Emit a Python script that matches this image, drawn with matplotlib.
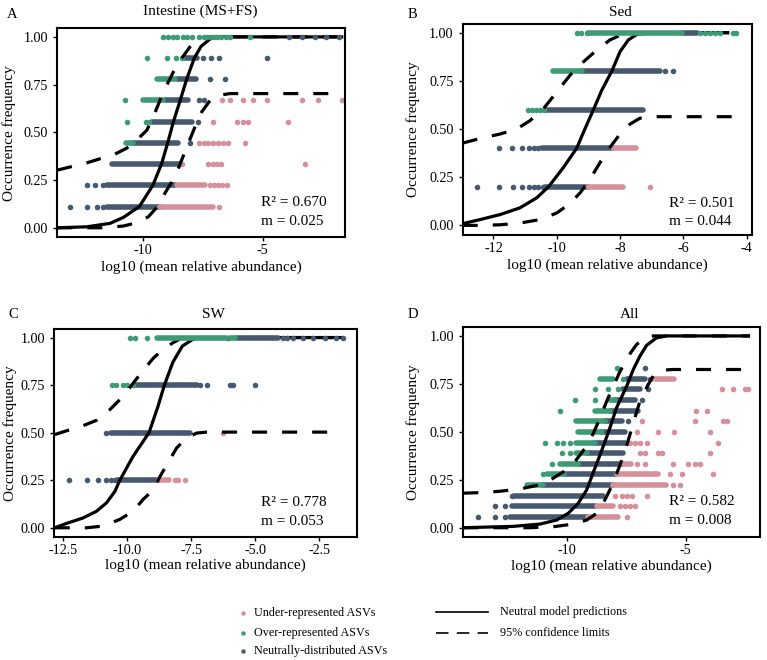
import matplotlib
matplotlib.use("Agg")
import matplotlib.pyplot as plt
from matplotlib.lines import Line2D

plt.rcParams['font.family'] = ['Liberation Serif', 'DejaVu Serif']
plt.rcParams['axes.unicode_minus'] = False

# ---------------- colours ----------------
COL_UNDER = '#D4919B'
COL_OVER = '#3F9B76'
COL_NEUT = '#46596F'

# ---------------- panel texts ----------------
panel_letters = ['A', 'B', 'C', 'D']
panel_titles = ['Intestine (MS+FS)', 'Sed', 'SW', 'All']
r2_values = ['0.670', '0.501', '0.778', '0.582']
m_values = ['0.025', '0.044', '0.053', '0.008']
y_ticks = [0.0, 0.25, 0.5, 0.75, 1.0]
y_ticklabels = ['0.00', '0.25', '0.50', '0.75', '1.00']
A_xticks = [-10, -5]
A_xticklabels = ['-10', '-5']
B_xticks = [-12, -10, -8, -6, -4]
B_xticklabels = ['-12', '-10', '-8', '-6', '-4']
C_xticks = [-12.5, -10.0, -7.5, -5.0, -2.5]
C_xticklabels = ['-12.5', '-10.0', '-7.5', '-5.0', '-2.5']
D_xticks = [-10, -5]
D_xticklabels = ['-10', '-5']

# ---------------- Panel A data ----------------
A_over_dots = {
    1.0: [-9.14, -8.96, -8.75, -8.56, -8.33, -8.14, -7.96, -7.64, -7.44, -7.31, -7.17,
          -7.03, -6.89, -6.75, -6.53, -6.36, -5.53],
    0.889: [-9.83, -9.0, -8.61, -8.38],
    0.667: [-10.74],
    0.556: [-10.67, -9.86, -9.72],
}
A_over_runs = [(-9.39, -8.65, 0.778), (-10.0, -9.14, 0.667), (-10.69, -10.39, 0.444)]
A_neut_dots = {
    1.0: [-3.89, -3.38, -2.82, -2.36, -1.81],
    0.889: [-7.47, -7.17, -6.82, -4.83],
    0.778: [-7.19, -6.57],
    0.667: [-7.64, -7.44],
    0.556: [-7.68],
    0.444: [-8.03],
    0.222: [-12.33, -11.99, -11.64],
    0.111: [-13.03, -12.33, -11.92, -11.64],
}
A_neut_runs = [(-8.28, -7.72, 0.889), (-8.58, -7.78, 0.778), (-9.07, -8.10, 0.667),
               (-9.60, -7.95, 0.556), (-10.39, -8.51, 0.444), (-11.29, -8.44, 0.333),
               (-11.47, -8.65, 0.222), (-11.47, -9.28, 0.111)]
A_under_dots = {
    0.667: [-6.71, -6.36, -5.81, -5.39, -4.83, -3.38, -2.68, -1.68],
    0.556: [-7.06, -6.08, -5.83, -5.60, -3.93],
    0.444: [-7.64, -7.44, -7.26, -7.06, -6.85, -6.67, -6.43, -5.74],
    0.333: [-8.38, -7.26, -7.06, -6.92, -6.75, -3.24],
    0.222: [-7.20, -7.05, -6.88, -6.68, -6.50],
    0.111: [-6.81],
}
A_under_runs = [(-8.58, -7.40, 0.222), (-9.28, -7.06, 0.111)]
A_fit_x = [-13.56, -12.33, -11.36, -10.81, -10.14, -9.58, -9.22, -8.96, -8.72, -8.44, -8.17,
           -7.85, -7.57, -7.19, -6.78, -1.64]
A_fit_y = [0.0, 0.005, 0.023, 0.054, 0.111, 0.222, 0.333, 0.444, 0.556, 0.667, 0.778,
           0.889, 0.95, 0.99, 1.0, 1.0]
A_up_x = [-13.56, -12.33, -11.15, -10.67, -10.25, -9.83, -9.56, -9.28, -9.0, -8.72, -8.38,
          -8.03, -7.68, -7.40, -1.64]
A_up_y = [0.302, 0.340, 0.386, 0.417, 0.459, 0.511, 0.581, 0.668, 0.747, 0.817, 0.887,
          0.948, 0.991, 1.0, 1.0]
A_lo_x = [-13.56, -11.64, -10.81, -10.25, -9.76, -9.42, -9.0, -8.65, -8.38, -8.10, -7.82,
          -7.54, -7.19, -6.78, -6.36, -1.64]
A_lo_y = [0.0, 0.0, 0.009, 0.026, 0.058, 0.106, 0.197, 0.267, 0.354, 0.442, 0.529,
          0.607, 0.668, 0.695, 0.703, 0.703]

# ---------------- Panel B data ----------------
B_over_dots = {
    1.0: [-9.37, -9.23, -9.05, -5.47, -5.32, -5.16, -5.0, -4.84, -4.44, -4.34],
    0.6: [-10.92, -10.79, -10.65, -10.53, -10.39],
}
B_over_runs = [(-9.0, -6.05, 1.0), (-10.11, -9.21, 0.8)]
B_neut_dots = {
    0.8: [-6.58, -6.32],
    0.4: [-11.82, -11.40, -11.11, -10.89, -10.72, -10.58],
    0.2: [-12.53, -11.82, -11.39, -11.11, -10.89, -10.72, -10.58, -10.44],
}
B_neut_runs = [(-6.05, -5.58, 1.0), (-9.21, -6.74, 0.8), (-10.32, -7.26, 0.6),
               (-10.47, -8.21, 0.4), (-10.37, -9.0, 0.2)]
B_under_dots = {0.2: [-7.05]}
B_under_runs = [(-8.21, -7.49, 0.4), (-9.0, -7.92, 0.2)]
B_fit_x = [-12.97, -12.42, -11.79, -11.16, -10.63, -10.26, -9.79, -9.37, -9.11, -8.84, -8.58,
           -8.26, -8.0, -7.74, -7.47, -7.05, -4.55]
B_fit_y = [0.009, 0.030, 0.056, 0.091, 0.143, 0.2, 0.3, 0.4, 0.5, 0.6, 0.7,
           0.8, 0.901, 0.962, 0.991, 1.0, 1.0]
B_up_x = [-12.97, -12.42, -11.79, -11.26, -10.84, -10.42, -10.0, -9.58, -9.16, -8.74, -8.32,
          -7.89, -7.58, -4.55]
B_up_y = [0.427, 0.451, 0.474, 0.5, 0.544, 0.605, 0.692, 0.779, 0.848, 0.909, 0.962,
          0.995, 1.0, 1.0]
B_lo_x = [-12.97, -12.42, -11.79, -11.16, -10.53, -10.0, -9.58, -9.26, -8.95, -8.63, -8.32,
          -8.0, -7.68, -7.37, -6.95, -4.32]
B_lo_y = [0.0, 0.0, 0.003, 0.012, 0.030, 0.064, 0.113, 0.169, 0.239, 0.326, 0.404,
          0.474, 0.526, 0.556, 0.564, 0.564]

# ---------------- Panel C data ----------------
C_over_dots = {
    1.0: [-9.90, -9.70, -9.22],
    0.75: [-10.61, -10.44, -10.16, -9.99, -9.79],
}
C_over_runs = [(-8.83, -6.15, 1.0), (-5.99, -5.79, 1.0)]
C_neut_dots = {
    1.0: [-6.08, -3.93, -3.75, -3.52, -3.15, -2.73, -2.28, -1.85, -1.59],
    0.75: [-7.16, -6.90, -6.0, -5.86, -5.01],
    0.5: [-10.83],
    0.25: [-12.27, -11.56, -11.13, -10.83, -10.64, -10.48],
}
C_neut_runs = [(-5.73, -4.10, 1.0), (-9.70, -7.29, 0.75), (-10.64, -7.55, 0.5),
               (-10.39, -8.79, 0.25)]
C_under_dots = {0.5: [-6.28], 0.25: [-8.14, -8.01, -7.75]}
C_under_runs = [(-8.75, -8.36, 0.25)]
C_fit_x = [-12.83, -12.37, -11.72, -11.20, -10.81, -10.48, -10.29, -9.77, -9.15, -8.80, -8.55,
           -8.22, -7.85, -7.45, -7.10, -1.56]
C_fit_y = [0.0, 0.023, 0.052, 0.087, 0.131, 0.192, 0.25, 0.376, 0.5, 0.638, 0.75,
           0.87, 0.955, 0.99, 1.0, 1.0]
C_up_x = [-12.83, -12.37, -11.72, -11.20, -10.68, -10.16, -9.77, -9.38, -8.98, -8.59, -8.20,
          -7.88, -7.68, -1.56]
C_up_y = [0.490, 0.510, 0.537, 0.565, 0.621, 0.691, 0.760, 0.827, 0.892, 0.939, 0.974,
          0.997, 1.0, 1.0]
C_lo_x = [-12.83, -12.37, -11.59, -10.94, -10.29, -9.77, -9.38, -8.98, -8.72, -8.46, -8.07,
          -7.68, -7.29, -6.90, -1.69]
C_lo_y = [0.0, 0.0, 0.0, 0.009, 0.044, 0.087, 0.149, 0.20, 0.27, 0.33, 0.42,
          0.472, 0.498, 0.503, 0.503]

# ---------------- Panel D data ----------------
D_over_dots = {
    0.833: [-7.92],
    0.778: [-7.63],
    0.722: [-8.83, -8.27, -7.85],
    0.667: [-9.68, -8.83],
    0.611: [-10.31],
    0.444: [-10.92, -10.45, -10.17, -9.89],
    0.389: [-10.24, -9.89],
    0.333: [-10.66],
    0.278: [-11.01],
}
D_over_runs = [(-8.62, -8.08, 0.778), (-8.20, -7.99, 0.667), (-8.83, -8.20, 0.611),
               (-9.61, -8.41, 0.556), (-9.54, -8.55, 0.5), (-9.61, -8.83, 0.444),
               (-9.61, -9.18, 0.389), (-10.31, -9.54, 0.333), (-10.87, -10.14, 0.278),
               (-11.72, -11.01, 0.222)]
D_neut_dots = {
    0.833: [-6.72],
    0.778: [-6.51],
    0.722: [-6.58],
    0.667: [-6.86],
    0.556: [-7.42],
    0.167: [-12.35],
    0.111: [-13.06, -12.63],
    0.056: [-13.79, -13.06, -12.63],
}
D_neut_runs = [(-7.49, -6.72, 0.778), (-7.63, -6.93, 0.722), (-7.99, -7.14, 0.667),
               (-8.20, -7.0, 0.611), (-8.41, -7.70, 0.556), (-8.55, -7.56, 0.5),
               (-8.83, -7.56, 0.444), (-9.18, -7.63, 0.389), (-9.54, -7.70, 0.333),
               (-10.14, -7.92, 0.278), (-11.01, -8.08, 0.222), (-12.25, -8.48, 0.167),
               (-12.35, -8.83, 0.111), (-12.42, -9.15, 0.056)]
D_under_dots = {
    0.722: [-3.48, -2.99, -2.49, -2.35],
    0.611: [-4.56, -4.08],
    0.556: [-6.86, -4.61, -3.41, -3.27],
    0.5: [-7.07, -6.15, -5.49, -3.97],
    0.444: [-7.35, -7.14, -6.93, -6.65, -3.62],
    0.389: [-6.93, -6.72, -6.15, -6.01, -3.97],
    0.333: [-7.04, -6.72, -5.52, -4.89, -4.61, -4.39],
    0.278: [-5.66, -5.17, -3.83],
    0.222: [-5.52, -5.24],
    0.167: [-7.99, -7.70, -7.49, -7.28, -6.65],
    0.111: [-7.77, -7.56, -7.35, -7.14],
    0.056: [-7.49],
}
D_under_runs = [(-6.30, -5.49, 0.778), (-7.66, -7.32, 0.333), (-7.92, -6.15, 0.278),
                (-8.08, -5.83, 0.222), (-8.76, -8.06, 0.111), (-9.11, -7.85, 0.056)]
D_fit_x = [-14.39, -12.28, -11.15, -10.45, -9.96, -9.54, -9.18, -8.83, -8.48, -8.20, -7.92,
           -7.49, -7.21, -6.93, -6.65, -6.23, -5.80, -2.28]
D_fit_y = [0.0, 0.007, 0.019, 0.040, 0.075, 0.127, 0.197, 0.311, 0.424, 0.520, 0.625,
           0.738, 0.825, 0.895, 0.951, 0.990, 1.0, 1.0]
D_up_x = [-14.39, -13.69, -12.85, -12.0, -11.30, -10.73, -10.17, -9.68, -9.25, -8.90, -8.62,
          -8.34, -8.06, -7.77, -7.42, -7.07, -6.65, -6.37, -2.28]
D_up_y = [0.180, 0.183, 0.190, 0.202, 0.220, 0.248, 0.291, 0.344, 0.414, 0.492, 0.571,
          0.658, 0.736, 0.815, 0.895, 0.956, 0.995, 1.0, 1.0]
D_lo_x = [-14.39, -11.58, -10.59, -9.75, -9.18, -8.76, -8.41, -8.13, -7.85, -7.56, -7.21,
          -6.93, -6.58, -6.30, -5.94, -5.52, -2.28]
D_lo_y = [0.0, 0.0, 0.005, 0.019, 0.040, 0.075, 0.145, 0.215, 0.302, 0.398, 0.546,
          0.660, 0.747, 0.805, 0.822, 0.825, 0.825]

legend_points = ['Under-represented ASVs', 'Over-represented ASVs', 'Neutrally-distributed ASVs']
legend_lines = ['Neutral model predictions', '95% confidence limits']

# ---------------- layout (pixels of a 767x660 figure) ----------------
W, H = 767.0, 660.0
fig = plt.figure(figsize=(W / 100, H / 100), dpi=100)


def px_axes(l, t, r, b):
    return [l / W, 1 - b / H, (r - l) / W, (b - t) / H]


axes_px = [(57.3, 28.3, 345.0, 237.3), (462.7, 24.0, 752.3, 235.0),
           (54.0, 329.0, 356.7, 537.3), (463.3, 327.3, 760.0, 537.3)]
xlims = [(-13.56, -1.57), (-12.97, -3.82), (-12.86, -1.04), (-14.39, -1.86)]
title_pos = [(200, 11), (620, 12.7), (213, 315), (630, 315)]
letter_pos = [(7, 14), (408, 14), (8, 314), (408, 315)]
ann_pos = [(0.708, 0.166, 0.075), (0.713, 0.150, 0.063), (0.684, 0.166, 0.075), (0.694, 0.170, 0.082)]
ylab_x = [-0.166, -0.171, -0.145, -0.169]
xlab_y = [-0.141, -0.142, -0.133, -0.140]

DOT = 4.0  # marker diameter in points
LW = 2.3

panels = [
    (A_over_dots, A_over_runs, A_neut_dots, A_neut_runs, A_under_dots, A_under_runs,
     A_fit_x, A_fit_y, A_up_x, A_up_y, A_lo_x, A_lo_y, A_xticks, A_xticklabels),
    (B_over_dots, B_over_runs, B_neut_dots, B_neut_runs, B_under_dots, B_under_runs,
     B_fit_x, B_fit_y, B_up_x, B_up_y, B_lo_x, B_lo_y, B_xticks, B_xticklabels),
    (C_over_dots, C_over_runs, C_neut_dots, C_neut_runs, C_under_dots, C_under_runs,
     C_fit_x, C_fit_y, C_up_x, C_up_y, C_lo_x, C_lo_y, C_xticks, C_xticklabels),
    (D_over_dots, D_over_runs, D_neut_dots, D_neut_runs, D_under_dots, D_under_runs,
     D_fit_x, D_fit_y, D_up_x, D_up_y, D_lo_x, D_lo_y, D_xticks, D_xticklabels),
]


def draw_group(ax, dots, runs, color):
    for y, xs in dots.items():
        z = 4 if y >= 0.999 else 2
        ax.scatter(xs, [y] * len(xs), s=DOT ** 2, color=color, linewidths=0, zorder=z)
    for x0, x1, y in runs:
        z = 4 if y >= 0.999 else 2
        ax.plot([x0, x1], [y, y], color=color, lw=DOT, solid_capstyle='round', zorder=z)


for i, p in enumerate(panels):
    (od, orun, nd, nrun, ud, urun, fx, fy, ux, uy, lx, ly, xt, xtl) = p
    ax = fig.add_axes(px_axes(*axes_px[i]))
    draw_group(ax, nd, nrun, COL_NEUT)
    draw_group(ax, od, orun, COL_OVER)
    draw_group(ax, ud, urun, COL_UNDER)
    ax.plot(fx, fy, color='black', lw=LW, zorder=3, solid_capstyle='butt')
    ax.plot(ux, uy, color='black', lw=LW, ls=(0, (4.7, 4.7)), zorder=3)
    ax.plot(lx, ly, color='black', lw=LW, ls=(0, (4.7, 4.7)), zorder=3)
    ax.set_xlim(*xlims[i])
    ax.set_ylim(-0.05, 1.045)
    ax.set_xticks(xt)
    ax.set_xticklabels(xtl)
    ax.set_yticks(y_ticks)
    ax.set_yticklabels(y_ticklabels)
    for s in ax.spines.values():
        s.set_linewidth(1.5)
        s.set_color('black')
    ax.tick_params(axis='both', direction='out', length=2.6, width=1.0, colors='black',
                   labelsize=10.2)
    ax.tick_params(axis='x', pad=2.5)
    ax.tick_params(axis='y', pad=4.0)
    ax.set_xlabel('log10 (mean relative abundance)', fontsize=11)
    ax.set_ylabel('Occurrence frequency', fontsize=11)
    ax.xaxis.set_label_coords(0.5, xlab_y[i])
    ax.xaxis.label.set_va('center')
    ax.yaxis.set_label_coords(ylab_x[i], 0.5)
    ax.yaxis.label.set_va('center')
    ax.text(ann_pos[i][0], ann_pos[i][1], 'R² = ' + r2_values[i], transform=ax.transAxes,
            fontsize=11, ha='left', va='center')
    ax.text(ann_pos[i][0], ann_pos[i][2], 'm = ' + m_values[i], transform=ax.transAxes,
            fontsize=11, ha='left', va='center')
    fig.text(title_pos[i][0] / W, 1 - title_pos[i][1] / H, panel_titles[i], fontsize=11,
             ha='center', va='center')
    fig.text(letter_pos[i][0] / W, 1 - letter_pos[i][1] / H, panel_letters[i], fontsize=10.5,
             ha='left', va='center')

# ---------------- legend ----------------
leg_cols = [COL_UNDER, COL_OVER, COL_NEUT]
leg_y = [613, 632.7, 651]
for lab, c, y in zip(legend_points, leg_cols, leg_y):
    fig.add_artist(Line2D([243 / W], [1 - y / H], marker='o', ms=3.2, color=c, lw=0,
                          markeredgewidth=0))
    fig.text(254 / W, 1 - y / H, lab, fontsize=8.7, ha='left', va='center')
line_styles = ['-', (0, (7.5, 5.0))]
line_y = [611.5, 632.7]
for lab, ls, y in zip(legend_lines, line_styles, line_y):
    fig.add_artist(Line2D([436 / W, 488 / W], [1 - y / H, 1 - y / H], color='black', lw=1.2,
                          ls=ls))
    fig.text(500 / W, 1 - y / H, lab, fontsize=8.7, ha='left', va='center')

fig.savefig('out.png', dpi=100)
